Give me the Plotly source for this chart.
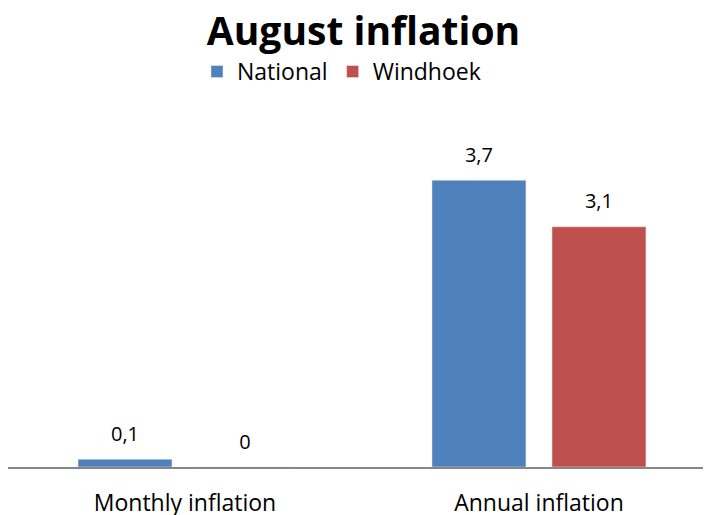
import plotly.graph_objects as go

categories = ["Monthly inflation", "Annual inflation"]
national = [0.1, 3.7]
windhoek = [0.0, 3.1]
national_labels = ["0,1", "3,7"]
windhoek_labels = ["0", "3,1"]

font_family = "'Open Sans', 'Noto Sans', sans-serif"

fig = go.Figure()
for name, vals, labels, color in [("National", national, national_labels, "#4F81BD"),
                                  ("Windhoek", windhoek, windhoek_labels, "#C0504D")]:
    fig.add_trace(go.Bar(name=name, x=categories, y=vals, marker_color=color,
                         offsetgroup=name, alignmentgroup="a"))
for name, vals, labels in [("National", national, national_labels),
                           ("Windhoek", windhoek, windhoek_labels)]:
    fig.add_trace(go.Scatter(x=categories, y=vals, text=labels, mode="markers+text",
                             offsetgroup=name, alignmentgroup="a", showlegend=False,
                             marker=dict(size=20, opacity=0), textposition="top center",
                             textfont=dict(size=20, color="#000"), cliponaxis=False,
                             hoverinfo="skip"))

fig.update_layout(
    width=703, height=507,
    margin=dict(l=0, r=0, t=87, b=48, autoexpand=False),
    paper_bgcolor="white", plot_bgcolor="white",
    font=dict(family=font_family, color="#000"),
    title=dict(text="<b>August inflation</b>", x=0.5057, xanchor="center", y=0.954, yanchor="middle",
               font=dict(size=39, color="#000")),
    legend=dict(orientation="h", x=0.4744, xanchor="center", y=1.063, yanchor="middle",
                font=dict(size=23), tracegroupgap=0),
    barmode="group", bargap=0.322, bargroupgap=0.217,
    scattermode="group", scattergap=0.322,
    xaxis=dict(range=[-0.5, 1.486], showline=True, linecolor="#878787", linewidth=2,
               tickfont=dict(size=23), ticks="outside", ticklen=14, tickcolor="rgba(0,0,0,0)",
               showgrid=False, automargin=False),
    yaxis=dict(range=[0, 4.8], visible=False, automargin=False),
)

fig.write_html("out.html")
